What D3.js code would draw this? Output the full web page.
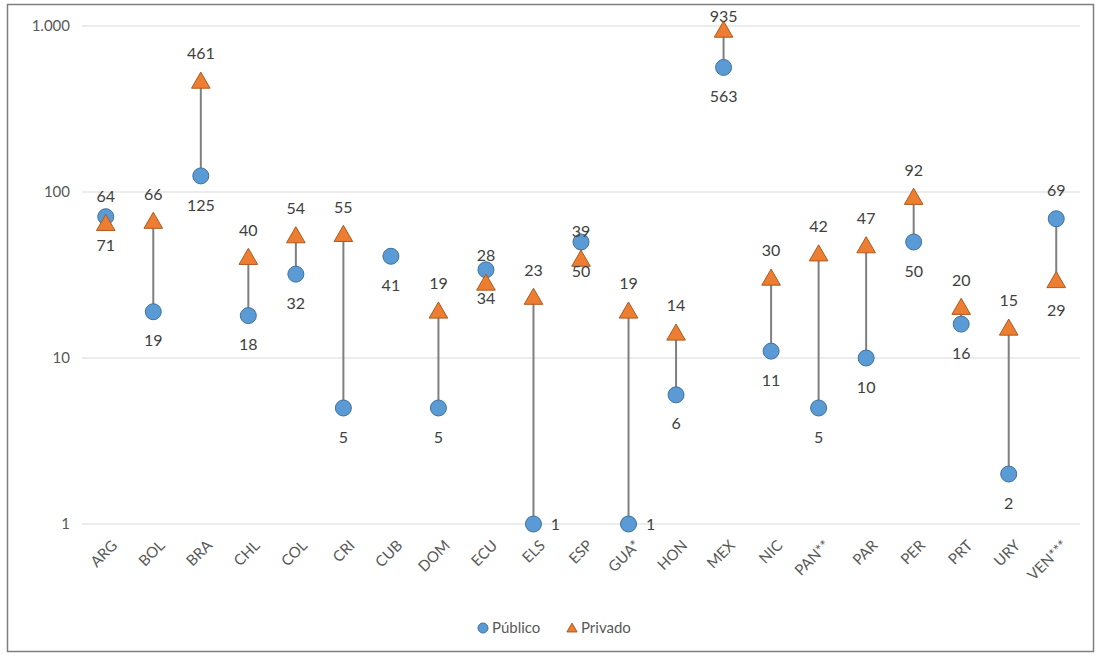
<!DOCTYPE html>
<html>
<head>
<meta charset="utf-8">
<script src="https://cdn.jsdelivr.net/npm/d3@7"></script>
<style>
  body { margin: 0; background: #fff; }
  #chart { font-family: Lato, "Open Sans", sans-serif; }
</style>
</head>
<body>
<div id="chart"></div>
<script>
const categories = ["ARG", "BOL", "BRA", "CHL", "COL", "CRI", "CUB", "DOM", "ECU", "ELS", "ESP",
    "GUA*", "HON", "MEX", "NIC", "PAN**", "PAR", "PER", "PRT", "URY", "VEN***"];
const publico = [71, 19, 125, 18, 32, 5, 41, 5, 34, 1, 50, 1, 6, 563, 11, 5, 10, 50, 16, 2, 69];
const privado = [64, 66, 461, 40, 54, 55, null, 19, 28, 23, 39, 19, 14, 935, 30, 42, 47, 92, 20, 15, 29];
const yTicks = [1, 10, 100, 1000];

// label placement: publico below, privado above, except these
const pubLabelPos = { "ELS": "right", "GUA*": "right", "VEN***": "above" };
const privLabelPos = { "VEN***": "below", "MEX": "top" };

const W = 1102, H = 658;
const svg = d3.select("#chart").append("svg")
    .attr("width", W)
    .attr("height", H);

// outer frame
svg.append("rect")
    .attr("x", 7.5).attr("y", 4.5)
    .attr("width", 1086).attr("height", 647)
    .attr("fill", "#fff")
    .attr("stroke", "#7f7f7f")
    .attr("stroke-width", 1.5);

const x = d3.scaleBand()
    .domain(categories)
    .range([82, 1080]);

const y = d3.scaleLog()
    .domain([1, 1000])
    .range([524, 26]);

// gridlines
svg.append("g")
    .selectAll("line")
    .data(yTicks)
    .enter().append("line")
    .attr("x1", 82).attr("x2", 1080)
    .attr("y1", d => y(d)).attr("y2", d => y(d))
    .attr("stroke", "#d9d9d9")
    .attr("stroke-width", 1);

// y axis
const yAxis = svg.append("g")
    .attr("transform", "translate(70,0)")
    .call(d3.axisLeft(y).tickValues(yTicks).tickSize(0).tickPadding(0)
        .tickFormat(d => d3.format(",")(d).replace(",", ".")));
yAxis.select(".domain").remove();
yAxis.selectAll("text")
    .attr("fill", "#595959")
    .style("font-size", "15px")
    .style("font-family", "Lato, 'Open Sans', sans-serif");

// x axis labels
const cx = d => x(d) + x.bandwidth() / 2;
svg.append("g")
    .selectAll("text")
    .data(categories)
    .enter().append("text")
    .attr("transform", d => `translate(${cx(d) + 5},${539}) rotate(-45)`)
    .attr("text-anchor", "end")
    .attr("dy", "0.7em")
    .attr("fill", "#595959")
    .style("font-size", "15px")
    .text(d => d);

// connecting lines
svg.append("g")
    .selectAll("line")
    .data(categories.filter((c, i) => privado[i] != null))
    .enter().append("line")
    .attr("x1", d => cx(d)).attr("x2", d => cx(d))
    .attr("y1", d => y(publico[categories.indexOf(d)]))
    .attr("y2", d => y(privado[categories.indexOf(d)]))
    .attr("stroke", "#7f7f7f")
    .attr("stroke-width", 2);

// publico markers
svg.append("g")
    .selectAll("circle")
    .data(categories)
    .enter().append("circle")
    .attr("cx", d => cx(d))
    .attr("cy", (d, i) => y(publico[i]))
    .attr("r", 8)
    .attr("fill", "#5b9bd5")
    .attr("stroke", "#41719c")
    .attr("stroke-width", 1);

// privado markers
const tri = d3.symbol().type(d3.symbolTriangle).size(150);
svg.append("g")
    .selectAll("path")
    .data(categories.filter((c, i) => privado[i] != null))
    .enter().append("path")
    .attr("d", tri)
    .attr("transform", d => `translate(${cx(d)},${y(privado[categories.indexOf(d)]) + 1})`)
    .attr("fill", "#ed7d31")
    .attr("stroke", "#ae5a21")
    .attr("stroke-width", 1);

function labelPos(pos, px, py) {
    if (pos === "right") return [px + 22, py];
    if (pos === "above") return [px, py - 28];
    if (pos === "top") return [px, py - 14];
    return [px, py + 29];
}

const labels = svg.append("g")
    .attr("fill", "#404040")
    .style("font-size", "16px");

categories.forEach((c, i) => {
    const [lx, ly] = labelPos(pubLabelPos[c] || "below", cx(c), y(publico[i]));
    labels.append("text")
        .attr("x", lx).attr("y", ly)
        .attr("dy", "0.35em")
        .attr("text-anchor", "middle")
        .text(publico[i]);
    if (privado[i] != null) {
        const [qx, qy] = labelPos(privLabelPos[c] || "above", cx(c), y(privado[i]));
        labels.append("text")
            .attr("x", qx).attr("y", qy)
            .attr("dy", "0.35em")
            .attr("text-anchor", "middle")
            .text(privado[i]);
    }
});

// legend
const legend = svg.append("g")
    .attr("transform", "translate(483,628)")
    .style("font-size", "15px")
    .attr("fill", "#595959");
legend.append("circle")
    .attr("cx", 0).attr("cy", 0).attr("r", 5)
    .attr("fill", "#5b9bd5").attr("stroke", "#41719c");
legend.append("text")
    .attr("x", 9).attr("y", 0).attr("dy", "0.35em")
    .text("Público");
legend.append("path")
    .attr("d", d3.symbol().type(d3.symbolTriangle).size(45))
    .attr("transform", "translate(89,1)")
    .attr("fill", "#ed7d31").attr("stroke", "#ae5a21");
legend.append("text")
    .attr("x", 98).attr("y", 0).attr("dy", "0.35em")
    .text("Privado");
</script>
</body>
</html>
